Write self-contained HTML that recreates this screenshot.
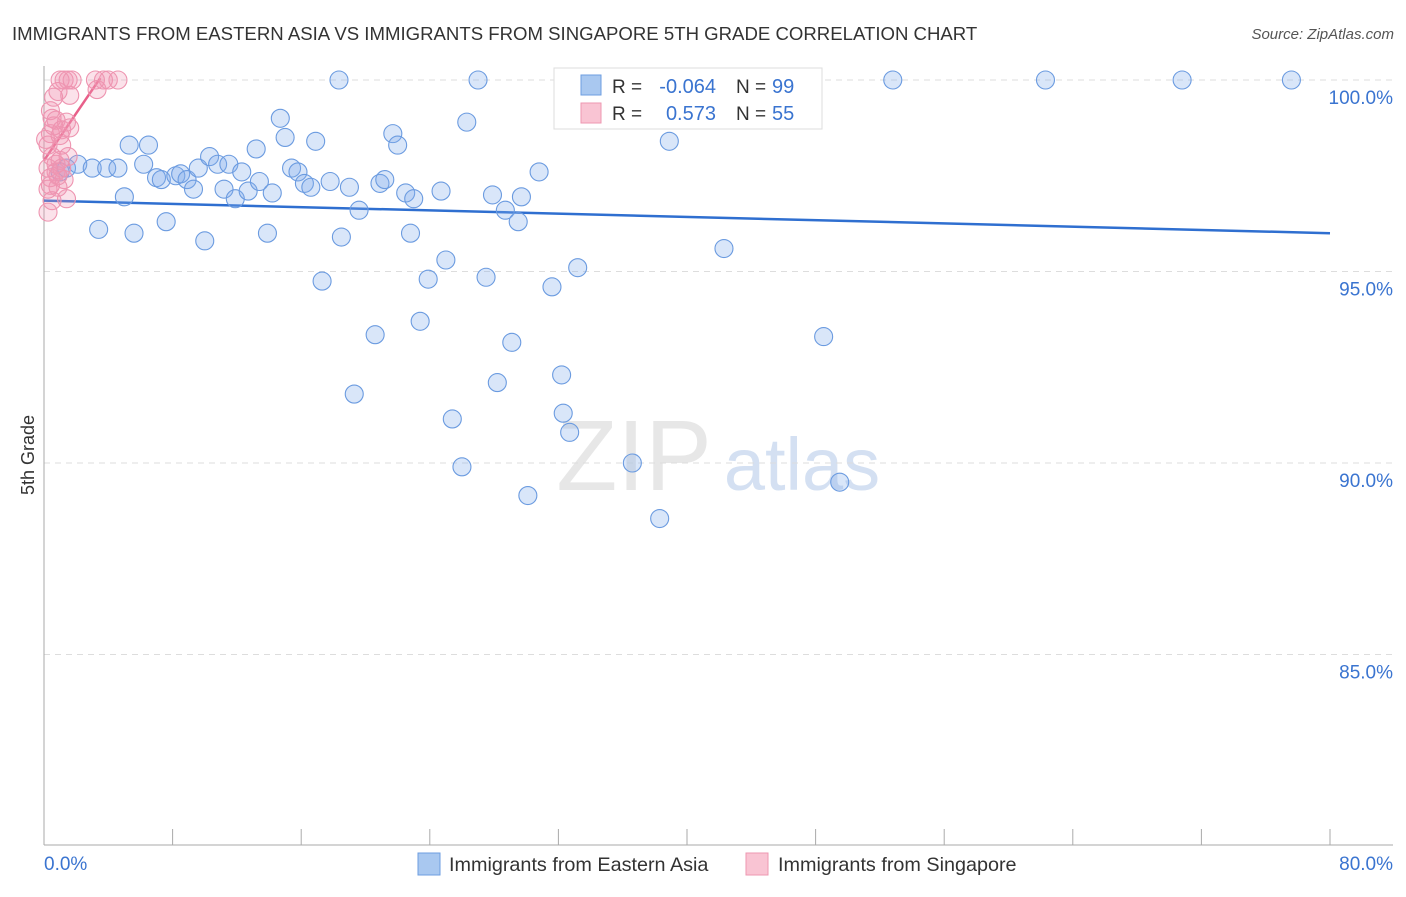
<!DOCTYPE html>
<html><head><meta charset="utf-8"><style>
body{margin:0;background:#fff;font-family:"Liberation Sans",sans-serif;}
svg text{font-family:"Liberation Sans",sans-serif;}
</style></head><body>
<svg id="chart" width="1406" height="892" viewBox="0 0 1406 892" xmlns="http://www.w3.org/2000/svg">
<text x="12" y="40" font-size="18.6" fill="#333">IMMIGRANTS FROM EASTERN ASIA VS IMMIGRANTS FROM SINGAPORE 5TH GRADE CORRELATION CHART</text>
<text x="1394" y="39" font-size="15" fill="#555" text-anchor="end" font-style="italic">Source: ZipAtlas.com</text>
<text x="34" y="455" font-size="18" fill="#333" text-anchor="middle" transform="rotate(-90 34 455)">5th Grade</text>
<g><text x="634" y="490" font-size="100" fill="#d8d8d8" text-anchor="middle" font-family="Liberation Serif" opacity="0.6">ZIP</text><text x="802" y="490" font-size="74" fill="#b8cdea" text-anchor="middle" opacity="0.6">atlas</text></g>
<g id="grid"></g><g id="axes"></g><g id="trends"></g><g id="pts"></g>
<g>
<rect x="554" y="68" width="268" height="61" fill="#fff" stroke="#ddd"/>
<rect x="581" y="75" width="20" height="20" fill="#a9c8f0" stroke="#6d9ee0"/>
<rect x="581" y="103" width="20" height="20" fill="#f9c4d3" stroke="#ee97b0"/>
<text x="612" y="93" font-size="19" fill="#333">R =</text><text x="716" y="93" font-size="20" fill="#3a74d0" text-anchor="end">-0.064</text>
<text x="736" y="93" font-size="19" fill="#333">N =</text><text x="772" y="93" font-size="20" fill="#3a74d0">99</text>
<text x="612" y="120" font-size="19" fill="#333">R =</text><text x="716" y="120" font-size="20" fill="#3a74d0" text-anchor="end">0.573</text>
<text x="736" y="120" font-size="19" fill="#333">N =</text><text x="772" y="120" font-size="20" fill="#3a74d0">55</text>
</g>
<g>
<rect x="418" y="853" width="22" height="22" fill="#a9c8f0" stroke="#6d9ee0"/>
<text x="449" y="871" font-size="19.8" fill="#333">Immigrants from Eastern Asia</text>
<rect x="746" y="853" width="22" height="22" fill="#f9c4d3" stroke="#ee97b0"/>
<text x="778" y="871" font-size="19.8" fill="#333">Immigrants from Singapore</text>
</g>
</svg>
<script>
const yTicks=[100,95,90,85];
const yTickLabels=["100.0%","95.0%","90.0%","85.0%"];
const xTickValues=[0,8,16,24,32,40,48,56,64,72,80];
const blueX=[18.35,27.0,52.8,62.3,70.8,77.6,37.4,40.8,43.2,34.0,5.3,6.5,3.4,5.6,7.6,10.0,13.9,18.5,22.8,14.7,15.0,16.9,21.7,22.0,26.3,38.9,30.8,42.3,17.3,23.9,25.0,27.5,31.6,33.2,20.6,23.4,29.1,48.5,19.3,28.2,32.2,25.4,32.3,32.7,26.0,30.1,36.6,38.3,49.5,1.0,1.4,2.1,3.0,3.9,4.6,5.0,6.2,7.0,7.3,8.2,8.5,8.9,9.3,9.6,10.3,10.8,11.2,11.5,11.9,12.3,12.7,13.2,13.4,14.2,15.4,15.8,16.2,16.6,17.8,19.0,19.6,20.9,21.2,22.5,23.0,24.7,27.9,28.7,29.5,29.7];
const blueY=[100,100,100,100,100,100,100,100,100,100,98.3,98.3,96.1,96.0,96.3,95.8,96.0,95.9,96.0,99.0,98.5,98.4,98.6,98.3,98.9,98.4,97.6,95.6,94.75,94.8,95.3,94.85,94.6,95.1,93.35,93.7,93.15,93.3,91.8,92.1,92.3,91.15,91.3,90.8,89.9,89.15,90.0,88.55,89.5,97.6,97.7,97.8,97.7,97.7,97.7,96.95,97.8,97.45,97.4,97.5,97.55,97.4,97.15,97.7,98.0,97.8,97.15,97.8,96.9,97.6,97.1,98.2,97.35,97.05,97.7,97.6,97.3,97.2,97.35,97.2,96.6,97.3,97.4,97.05,96.9,97.1,97.0,96.6,96.3,96.95];
const pinkX=[1.0,1.25,1.5,1.75,3.2,3.7,4.0,4.6,0.87,1.6,0.6,3.3,0.4,0.75,1.4,1.1,0.4,0.25,0.5,1.0,1.5,0.25,0.75,1.25,0.4,0.87,1.4,0.25,0.5,0.75,0.1,1.1,0.6,1.0,1.6,0.5,0.87,0.4,1.1,0.25];
const pinkY=[100,100,100,100,100,100,100,100,99.7,99.6,99.55,99.75,99.2,98.95,98.9,98.7,98.6,98.3,98.0,97.9,98.0,97.7,97.6,97.4,97.25,97.2,96.9,96.55,96.85,97.8,98.45,98.3,98.8,98.55,98.75,99.0,97.5,97.45,97.7,97.15];
const blueTrend=[[0,96.85],[80,96.0]];
const pinkTrend=[[0,97.9],[3.5,100.05]];
const X0=44,X1=1330,Y100=80,PX5=191.5;
const sx=v=>X0+(v/80)*(X1-X0);
const sy=v=>Y100+(100-v)/5*PX5;
const NS="http://www.w3.org/2000/svg";
function mk(t,a,p){const e=document.createElementNS(NS,t);for(const k in a)e.setAttribute(k,a[k]);p.appendChild(e);return e;}
const grid=document.getElementById('grid'),axes=document.getElementById('axes');
yTicks.forEach((v,i)=>{
 const l=mk('line',{x1:44,x2:1393,y1:sy(v),y2:sy(v),stroke:'#ddd','stroke-dasharray':'6,5'},grid);
 
 
 const t=mk('text',{x:1393,y:sy(v)+24,'font-size':19,fill:'#3a74d0','text-anchor':'end'},axes);
 t.textContent=yTickLabels[i];
 
 
});
const ya=mk('line',{x1:44,x2:44,y1:66,y2:845,stroke:'#aaa'},axes);


const xa=mk('line',{x1:44,x2:1393,y1:845,y2:845,stroke:'#aaa'},axes);


xTickValues.forEach(v=>{
 const t=mk('line',{x1:sx(v),x2:sx(v),y1:829,y2:845,stroke:'#aaa'},axes);
 
 
});
const xl0=mk('text',{x:44,y:870,'font-size':19,fill:'#3a74d0'},axes);xl0.textContent='0.0%';


const xl1=mk('text',{x:1393,y:870,'font-size':19,fill:'#3a74d0','text-anchor':'end'},axes);xl1.textContent='80.0%';


const pts=document.getElementById('pts');
blueX.forEach((x,i)=>{
 const c=mk('circle',{cx:sx(x),cy:sy(blueY[i]),r:9,fill:'rgba(130,172,235,0.3)',stroke:'#6b9be0','stroke-width':1.1},pts);
 
 
});
pinkX.forEach((x,i)=>{
 const c=mk('circle',{cx:sx(x),cy:sy(pinkY[i]),r:9,fill:'rgba(242,150,178,0.28)',stroke:'#ee94b0','stroke-width':1.1},pts);
 
 
});
const tr=document.getElementById('trends');
const bl=mk('line',{x1:sx(blueTrend[0][0]),y1:sy(blueTrend[0][1]),x2:sx(blueTrend[1][0]),y2:sy(blueTrend[1][1]),stroke:'#2f6fd0','stroke-width':2.5},tr);


const pl=mk('line',{x1:sx(pinkTrend[0][0]),y1:sy(pinkTrend[0][1]),x2:sx(pinkTrend[1][0]),y2:sy(pinkTrend[1][1]),stroke:'#e8608a','stroke-width':2.5},tr);


</script>
</body></html>
